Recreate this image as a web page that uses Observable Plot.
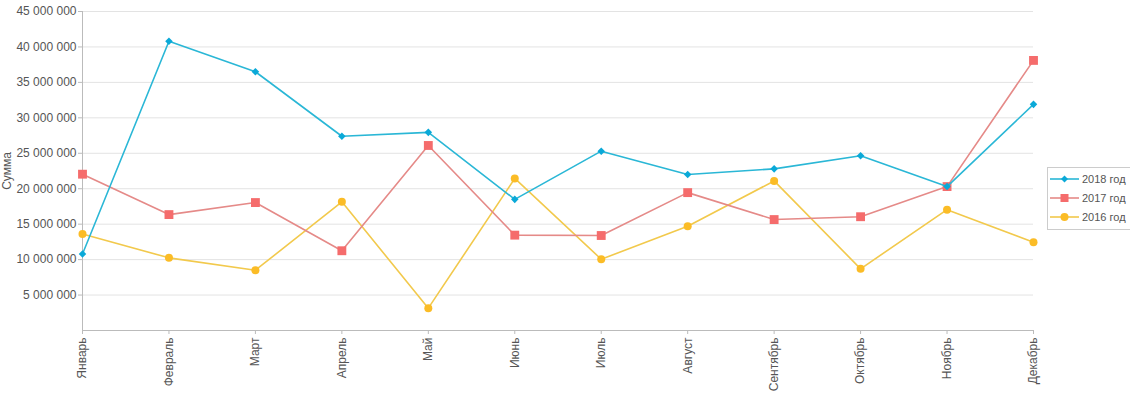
<!DOCTYPE html>
<html>
<head>
<meta charset="utf-8">
<script src="https://cdn.jsdelivr.net/npm/d3@7"></script>
<script src="https://cdn.jsdelivr.net/npm/@observablehq/plot@0.6"></script>
<style>
  html, body { margin: 0; padding: 0; background: #fff; }
  #wrap { position: relative; width: 1130px; height: 396px; overflow: hidden; font-family: "Liberation Sans", Arial, sans-serif; }
  #legend { position: absolute; left: 1047px; top: 167px; width: 95px; height: 60px; border: 1px solid #ccc; background: #fff; padding: 1px 0 0 2px; font-size: 11px; color: #555; box-sizing: content-box; }
  #legend .item { display: flex; align-items: center; height: 19px; white-space: nowrap; }
  #legend svg { margin-right: 3px; flex: none; }
</style>
</head>
<body>
<div id="wrap"><div id="chart"></div><div id="legend"></div></div>
<script>
const months = ["Январь","Февраль","Март","Апрель","Май","Июнь","Июль","Август","Сентябрь","Октябрь","Ноябрь","Декабрь"];
const seriesNames = ["2018 год","2017 год","2016 год"];
const values2018 = [10.8e6, 40.8e6, 36.5e6, 27.4e6, 27.95e6, 18.5e6, 25.3e6, 22.0e6, 22.8e6, 24.65e6, 20.3e6, 31.9e6];
const values2017 = [22.05e6, 16.35e6, 18.05e6, 11.25e6, 26.1e6, 13.45e6, 13.4e6, 19.45e6, 15.65e6, 16.05e6, 20.3e6, 38.1e6];
const values2016 = [13.6e6, 10.25e6, 8.5e6, 18.15e6, 3.15e6, 21.45e6, 10.05e6, 14.7e6, 21.1e6, 8.7e6, 17.05e6, 12.45e6];
const yTicks = [5e6, 10e6, 15e6, 20e6, 25e6, 30e6, 35e6, 40e6, 45e6];

const styles = {
  "2018 год": {line: "#2ab7d6", dot: "#0aa9d8", symbol: "diamond2", r: 3.4},
  "2017 год": {line: "#e58a88", dot: "#f56c6c", symbol: "square", r: 5},
  "2016 год": {line: "#f2c94c", dot: "#fbbc26", symbol: "circle", r: 4}
};
const raw = [values2018, values2017, values2016];
const data = [];
seriesNames.forEach((s, i) => months.forEach((m, j) => data.push({series: s, month: m, value: raw[i][j]})));

const fmt = d => d3.format(",")(d).replace(/,/g, " ");

const marks = [
  Plot.gridY(yTicks, {stroke: "#e3e3e3", strokeOpacity: 1}),
  Plot.axisY(yTicks, {tickFormat: fmt, tickSize: 4, tickPadding: 2, fontSize: 12, color: "#555", stroke: "#bbb", label: "Сумма", labelAnchor: "center", labelOffset: 80, labelArrow: "none"}),
  Plot.axisX({tickRotate: -90, tickSize: 4, tickPadding: 3, fontSize: 12, color: "#555", stroke: "#bbb", label: null}),
  Plot.ruleY([0], {stroke: "#bbb"}),
  Plot.ruleX([months[0]], {stroke: "#bbb", y1: 0, y2: 45e6})
];
seriesNames.slice().reverse().forEach(s => {
  const st = styles[s];
  const d = data.filter(r => r.series === s);
  marks.push(Plot.line(d, {x: "month", y: "value", stroke: st.line, strokeWidth: 1.6}));
  marks.push(Plot.dot(d, {x: "month", y: "value", fill: st.dot, stroke: "none", symbol: st.symbol, r: st.r}));
});

const chart = Plot.plot({
  width: 1130,
  height: 396,
  marginLeft: 82,
  marginRight: 97,
  marginTop: 11,
  marginBottom: 66,
  style: {fontFamily: "'Liberation Sans', Arial, sans-serif", background: "#fff", color: "#555", fontSize: "12px"},
  x: {type: "point", domain: months, padding: 0, round: false},
  y: {domain: [0, 45e6]},
  marks
});
document.getElementById("chart").appendChild(chart);

const legend = document.getElementById("legend");
seriesNames.forEach(s => {
  const st = styles[s];
  const item = document.createElement("div");
  item.className = "item";
  let marker;
  if (st.symbol === "square") marker = `<rect x="10.5" y="5" width="8" height="8" fill="${st.dot}"/>`;
  else if (st.symbol === "circle") marker = `<circle cx="14.5" cy="9" r="4" fill="${st.dot}"/>`;
  else marker = `<path d="M14.5 5.5 L18 9 L14.5 12.5 L11 9 Z" fill="${st.dot}"/>`;
  item.innerHTML = `<svg width="29" height="18"><line x1="0" x2="29" y1="9" y2="9" stroke="${st.line}" stroke-width="1.6"/>${marker}</svg><span>${s}</span>`;
  legend.appendChild(item);
});
</script>
</body>
</html>
